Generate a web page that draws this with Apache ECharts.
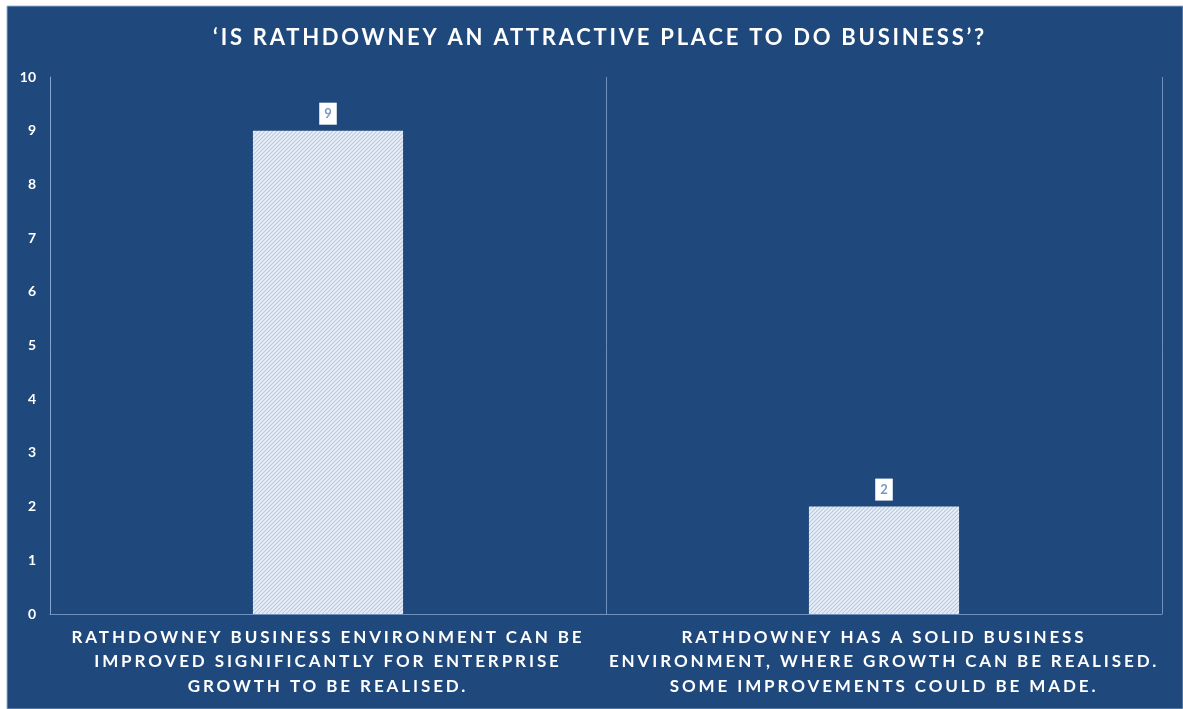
<!DOCTYPE html>
<html>
<head>
<meta charset="utf-8">
<script src="https://cdn.jsdelivr.net/npm/echarts@6/dist/echarts.min.js"></script>
<style>
html,body{margin:0;padding:0;background:#ffffff;}
#chart{width:1183px;height:709px;}
</style>
</head>
<body>
<div id="chart"></div>
<script>
// ---- data ----
const chartTitle = '\u2018IS RATHDOWNEY AN ATTRACTIVE PLACE TO DO BUSINESS\u2019?';
const categories = [
  'RATHDOWNEY BUSINESS ENVIRONMENT CAN BE\nIMPROVED SIGNIFICANTLY FOR ENTERPRISE\nGROWTH TO BE REALISED.',
  'RATHDOWNEY HAS A SOLID BUSINESS\nENVIRONMENT, WHERE GROWTH CAN BE REALISED.\nSOME IMPROVEMENTS COULD BE MADE.'
];
const values = [9, 2];
const yMin = 0, yMax = 10, yInterval = 1;

// letter spacing for the bold caps labels (canvas letterSpacing)
const origFill = CanvasRenderingContext2D.prototype.fillText;
CanvasRenderingContext2D.prototype.fillText = function (t, x, y, m) {
  const f = this.font || '';
  if (/\b17px\b/.test(f)) this.letterSpacing = '2.9px';
  else if (/\b22px\b/.test(f)) this.letterSpacing = '2.75px';
  else this.letterSpacing = '0px';
  return m === undefined ? origFill.call(this, t, x, y) : origFill.call(this, t, x, y, m);
};

// hatch pattern
const pc = document.createElement('canvas');
pc.width = 4; pc.height = 4;
const g = pc.getContext('2d');
g.fillStyle = '#ebf0f8';
g.fillRect(0, 0, 4, 4);
g.strokeStyle = '#b5c8e0';
g.lineWidth = 1.1;
g.beginPath();
g.moveTo(-1, 5); g.lineTo(5, -1);
g.moveTo(-1, 1); g.lineTo(1, -1);
g.moveTo(3, 5); g.lineTo(5, 3);
g.stroke();

const lineCol = 'rgba(140,170,212,0.75)';
const chart = echarts.init(document.getElementById('chart'), null, {renderer: 'canvas'});
chart.setOption({
  backgroundColor: '#ffffff',
  animation: false,
  graphic: [{
    type: 'rect', z: -10, silent: true,
    shape: {x: 7, y: 6, width: 1176, height: 703},
    style: {fill: '#1F497D', stroke: 'rgba(150,178,215,0.9)', lineWidth: 1}
  }],
  title: {
    text: chartTitle,
    left: 595, top: 22, textAlign: 'center',
    textStyle: {color: '#ffffff', fontFamily: 'Lato', fontWeight: 'bold', fontSize: 22}
  },
  grid: {left: 50, right: 21, top: 77, bottom: 95},
  xAxis: {
    type: 'category',
    data: categories,
    axisLine: {show: true, lineStyle: {color: lineCol, width: 1}},
    axisTick: {show: false},
    splitLine: {show: true, interval: 0, lineStyle: {color: lineCol, width: 1}},
    axisLabel: {
      interval: 0, margin: 11, color: '#ffffff',
      fontFamily: 'Lato', fontWeight: 'bold', fontSize: 17, lineHeight: 24.5
    }
  },
  yAxis: {
    type: 'value', min: yMin, max: yMax, interval: yInterval,
    axisLine: {show: true, lineStyle: {color: lineCol, width: 1}},
    axisTick: {show: false},
    splitLine: {show: false},
    axisLabel: {margin: 14, color: '#ffffff', fontFamily: 'Lato', fontWeight: 'bold', fontSize: 14}
  },
  series: [{
    type: 'bar',
    data: values,
    barWidth: '27%',
    itemStyle: {color: {image: pc, repeat: 'repeat'}},
    label: {
      show: true, position: 'top', distance: 6,
      backgroundColor: '#ffffff', padding: [5, 5, 4, 5],
      color: '#7a98c6', fontFamily: 'Lato', fontWeight: 'bold', fontSize: 13
    }
  }]
});
</script>
</body>
</html>
